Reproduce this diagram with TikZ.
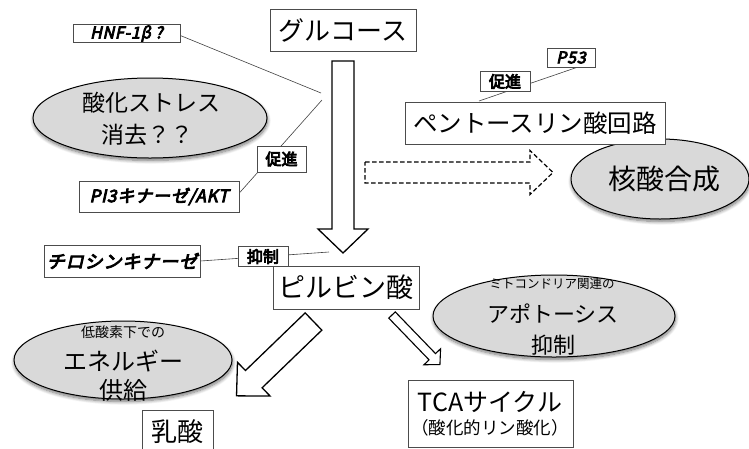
\documentclass[tikz,border=0pt]{standalone}
\usepackage{fontspec}
\setmainfont{Noto Sans CJK JP}
\newfontfamily\bifont[FakeSlant=0.22,FakeBold=5,LetterSpace=5]{Noto Sans CJK JP}
\newfontfamily\bofont[FakeBold=5]{Noto Sans CJK JP}
\usetikzlibrary{shapes.geometric,backgrounds,shadows.blur}
\tikzset{
  box/.style={draw=black!70, line width=0.7pt, fill=white, rectangle, inner sep=0pt},
  oval/.style={ellipse, draw=black, line width=1pt, fill=black!15, inner sep=0pt,
    blur shadow={shadow xshift=0.5pt, shadow yshift=-2.5pt, shadow blur radius=3.5pt, shadow blur steps=8, shadow opacity=55}},
  conn/.style={draw=black!75, line width=0.6pt},
  blk/.style={draw=black, line width=1.3pt, fill=white, line join=miter},
  txt/.style={inner sep=0pt, align=center},
  pics/barrow/.style args={#1/#2/#3/#4}{code={
    \path[pic actions] (0,-#2/2) -- (#1-#4,-#2/2) -- (#1-#4,-#3/2) -- (#1,0)
      -- (#1-#4,#3/2) -- (#1-#4,#2/2) -- (0,#2/2) -- cycle;}}
}
\begin{document}
\begin{tikzpicture}[x=1pt,y=-1pt]
\useasboundingbox (0,0) rectangle (749,448);
\clip (0,0) rectangle (749,448);

% ellipses
\node[oval, minimum width=234pt, minimum height=80pt] (ox) at (150,118) {};
\node[txt, font=\fontsize{23}{32}\selectfont] (oxt1) at (151,103) {酸化ストレス};
\node[txt, font=\fontsize{23}{32}\selectfont] (oxt2) at (147,135) {消去？？};
\node[oval, minimum width=178pt, minimum height=80pt] (kak) at (660,179) {};
\node[txt, font=\fontsize{28}{30}\selectfont] (kakt) at (664,179) {核酸合成};
\node[oval, minimum width=218pt, minimum height=78pt] (en) at (123,360) {};
\node[txt, font=\fontsize{14}{16}\selectfont] (ent1) at (123,332) {低酸素下での};
\node[txt, font=\fontsize{24}{26}\selectfont] (ent2) at (123,361) {エネルギー};
\node[txt, font=\fontsize{24}{26}\selectfont] (ent3) at (123,390) {供給};
\node[oval, minimum width=242pt, minimum height=82pt] (ap) at (554,316) {};
\node[txt, font=\fontsize{12.5}{14}\selectfont] (apt1) at (552,284) {ミトコンドリア関連の};
\node[txt, font=\fontsize{22}{24}\selectfont] (apt2) at (553,314) {アポトーシス};
\node[txt, font=\fontsize{22}{24}\selectfont] (apt3) at (553,345) {抑制};

% block arrows
\pic[blk, rotate=-90] at (343,61) {barrow=192/22/50/24};
\pic[blk, dashed, dash pattern=on 4.5pt off 2.5pt, line width=1.2pt] at (365,172.5) {barrow=188/21/44/23};
\pic[blk, rotate=224] at (313.5,321.5) {barrow=107/24/47/24};
\pic[blk, line width=1.1pt, rotate=-46] at (392,315) {barrow=69/9/23/11};

% boxes
\node[box, minimum width=146pt, minimum height=42pt, font=\fontsize{26}{30}\selectfont] (glc) at (343,30) {グルコース};
\node[box, minimum width=107pt, minimum height=18pt, font=\bifont\fontsize{16}{17}\selectfont] (hnf) at (126.5,33.5) {HNF-1β ?};
\node[box, minimum width=160pt, minimum height=31pt, font=\bifont\fontsize{17}{18}\selectfont] (pi3) at (159,196.5) {PI3キナーゼ/AKT};
\node[box, minimum width=49pt, minimum height=26pt, font=\bofont\fontsize{16}{17}\selectfont] (ss1) at (281.5,159) {促進};
\node[box, minimum width=156pt, minimum height=32pt, font=\bifont\fontsize{18}{20}\selectfont] (tyr) at (122,261) {チロシンキナーゼ};
\node[box, minimum width=50pt, minimum height=20pt, font=\bofont\fontsize{16}{17}\selectfont] (yk) at (263,256.5) {抑制};
\node[box, minimum width=48pt, minimum height=19pt, font=\bifont\fontsize{16}{17}\selectfont] (p53) at (571,57.5) {P53};
\node[box, minimum width=50pt, minimum height=20pt, font=\bofont\fontsize{16}{17}\selectfont] (ss2) at (505,81.5) {促進};
\node[box, minimum width=260pt, minimum height=42pt, font=\fontsize{24.5}{28}\selectfont] (pen) at (535,123) {ペントースリン酸回路};
\node[box, minimum width=146pt, minimum height=43pt, font=\fontsize{27}{30}\selectfont] (pyr) at (346,287.5) {ピルビン酸};
\node[box, minimum width=165pt, minimum height=67pt] (tca) at (490.5,413.5) {};
\node[txt, font=\fontsize{25}{27}\selectfont] (tcat1) at (490,402) {TCAサイクル};
\node[txt, font=\fontsize{17.5}{20}\selectfont] (tcat2) at (490,428) {（酸化的リン酸化）};
\node[box, minimum width=71pt, minimum height=44pt, font=\fontsize{26}{28}\selectfont] (lac) at (177.5,432) {乳酸};

% connectors
\coordinate (j1) at (321,93);
\coordinate (j2) at (322,100);
\coordinate (j3) at (329,252);
\coordinate (j4) at (479,101);
\begin{pgfonlayer}{background}
\draw[conn] ([yshift=-2pt]hnf.east) -- (j1);
\draw[conn] ([yshift=3.5pt]pi3.east) -- (j2);
\draw[conn] (tyr.east) -- (j3);
\draw[conn] ([xshift=6pt]p53.south) -- (j4);
\end{pgfonlayer}
\end{tikzpicture}
\end{document}
